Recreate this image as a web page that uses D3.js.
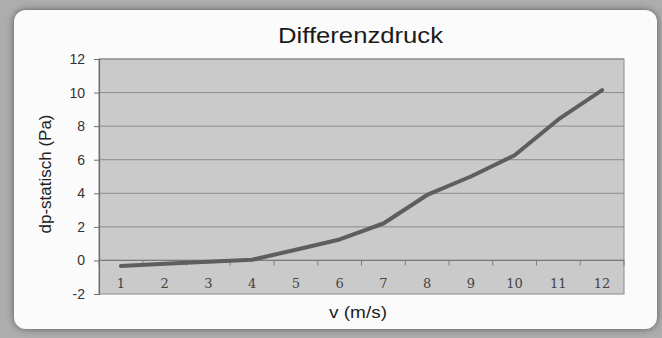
<!DOCTYPE html>
<html>
<head>
<meta charset="utf-8">
<script src="https://cdn.jsdelivr.net/npm/d3@7"></script>
<style>
  html, body { margin: 0; padding: 0; background: #acacac; }
  svg { display: block; }
</style>
</head>
<body>
<script>
// Differenzdruck über Strömungsgeschwindigkeit
const velocities = [1, 2, 3, 4, 5, 6, 7, 8, 9, 10, 11, 12];
const dpStatic = [-0.33, -0.2, -0.08, 0.04, 0.64, 1.25, 2.2, 3.9, 5.0, 6.27, 8.4, 10.15];
const yTicks = [-2, 0, 2, 4, 6, 8, 10, 12];

const W = 662, H = 338;
const plot = { left: 99, right: 624, top: 59, bottom: 294 };

const svg = d3.select("body").append("svg")
  .attr("width", W).attr("height", H);

const defs = svg.append("defs");
const shadow = defs.append("filter").attr("id", "cardShadow")
  .attr("x", "-5%").attr("y", "-5%").attr("width", "110%").attr("height", "110%");
shadow.append("feDropShadow")
  .attr("dx", 0).attr("dy", 0).attr("stdDeviation", 3.5)
  .attr("flood-color", "#4a4a4a").attr("flood-opacity", 0.85);

// outer background
svg.append("rect").attr("width", W).attr("height", H).attr("fill", "#adadad");

// chart card
svg.append("rect")
  .attr("x", 14).attr("y", 10).attr("width", 643).attr("height", 319)
  .attr("rx", 12).attr("ry", 12)
  .attr("fill", "#fbfbfb")
  .attr("filter", "url(#cardShadow)");

const x = d3.scaleBand().domain(velocities).range([plot.left, plot.right]).padding(0);
const y = d3.scaleLinear().domain([-2, 12]).range([plot.bottom, plot.top]);

// plot area
svg.append("rect")
  .attr("x", plot.left).attr("y", plot.top)
  .attr("width", plot.right - plot.left).attr("height", plot.bottom - plot.top)
  .attr("fill", "#cacaca");

// horizontal gridlines
svg.append("g").selectAll("line").data(yTicks.filter(t => t !== -2)).join("line")
  .attr("x1", plot.left).attr("x2", plot.right)
  .attr("y1", d => y(d)).attr("y2", d => y(d))
  .attr("stroke", "#8c8c8c").attr("stroke-width", 1);

// plot border
svg.append("rect")
  .attr("x", plot.left).attr("y", plot.top)
  .attr("width", plot.right - plot.left).attr("height", plot.bottom - plot.top)
  .attr("fill", "none").attr("stroke", "#8a8a8a").attr("stroke-width", 1);

// y axis (plain hyphen for negative numbers)
const yAxis = d3.axisLeft(y).tickValues(yTicks).tickSize(5).tickPadding(9).tickFormat(d => String(d));
const yG = svg.append("g").attr("transform", `translate(${plot.left},0)`).call(yAxis);
yG.select(".domain").attr("stroke", "#6e6e6e").attr("stroke-width", 1.2);
yG.selectAll(".tick line").attr("stroke", "#6e6e6e");
yG.selectAll(".tick text")
  .attr("font-family", "'Liberation Sans', Arial, sans-serif")
  .attr("font-size", 14).attr("fill", "#333");

// x axis crossing at zero, labels at the bottom of the plot
const xTickPositions = d3.range(velocities.length + 1).map(i => plot.left + i * x.bandwidth());
svg.append("line")
  .attr("x1", plot.left).attr("x2", plot.right)
  .attr("y1", y(0)).attr("y2", y(0))
  .attr("stroke", "#7a7a7a").attr("stroke-width", 1.2);
svg.append("g").selectAll("line").data(xTickPositions).join("line")
  .attr("x1", d => d).attr("x2", d => d)
  .attr("y1", y(0)).attr("y2", y(0) + 5)
  .attr("stroke", "#7a7a7a").attr("stroke-width", 1);
svg.append("g").selectAll("text").data(velocities).join("text")
  .attr("x", d => x(d) + x.bandwidth() / 2)
  .attr("y", 288)
  .attr("text-anchor", "middle")
  .attr("font-family", "'DejaVu Serif', 'Liberation Serif', serif")
  .attr("font-size", 13).attr("fill", "#444")
  .text(d => d);

// data line
const line = d3.line()
  .x((d, i) => x(velocities[i]) + x.bandwidth() / 2)
  .y(d => y(d));
svg.append("path")
  .datum(dpStatic)
  .attr("d", line)
  .attr("fill", "none")
  .attr("stroke", "#5e5e5e")
  .attr("stroke-width", 4)
  .attr("stroke-linejoin", "round")
  .attr("stroke-linecap", "round");

// title
svg.append("text")
  .attr("x", 278).attr("y", 43)
  .attr("font-family", "'Liberation Sans', Arial, sans-serif")
  .attr("font-size", 22).attr("fill", "#1a1a1a")
  .attr("textLength", 165).attr("lengthAdjust", "spacingAndGlyphs")
  .text("Differenzdruck");

// axis titles
svg.append("text")
  .attr("x", 329).attr("y", 318)
  .attr("font-family", "'Liberation Sans', Arial, sans-serif")
  .attr("font-size", 17).attr("fill", "#222")
  .attr("textLength", 58).attr("lengthAdjust", "spacingAndGlyphs")
  .text("v (m/s)");

svg.append("text")
  .attr("transform", "translate(51,174) rotate(-90)")
  .attr("text-anchor", "middle")
  .attr("font-family", "'Liberation Sans', Arial, sans-serif")
  .attr("font-size", 17).attr("fill", "#222")
  .text("dp-statisch (Pa)");
</script>
</body>
</html>
